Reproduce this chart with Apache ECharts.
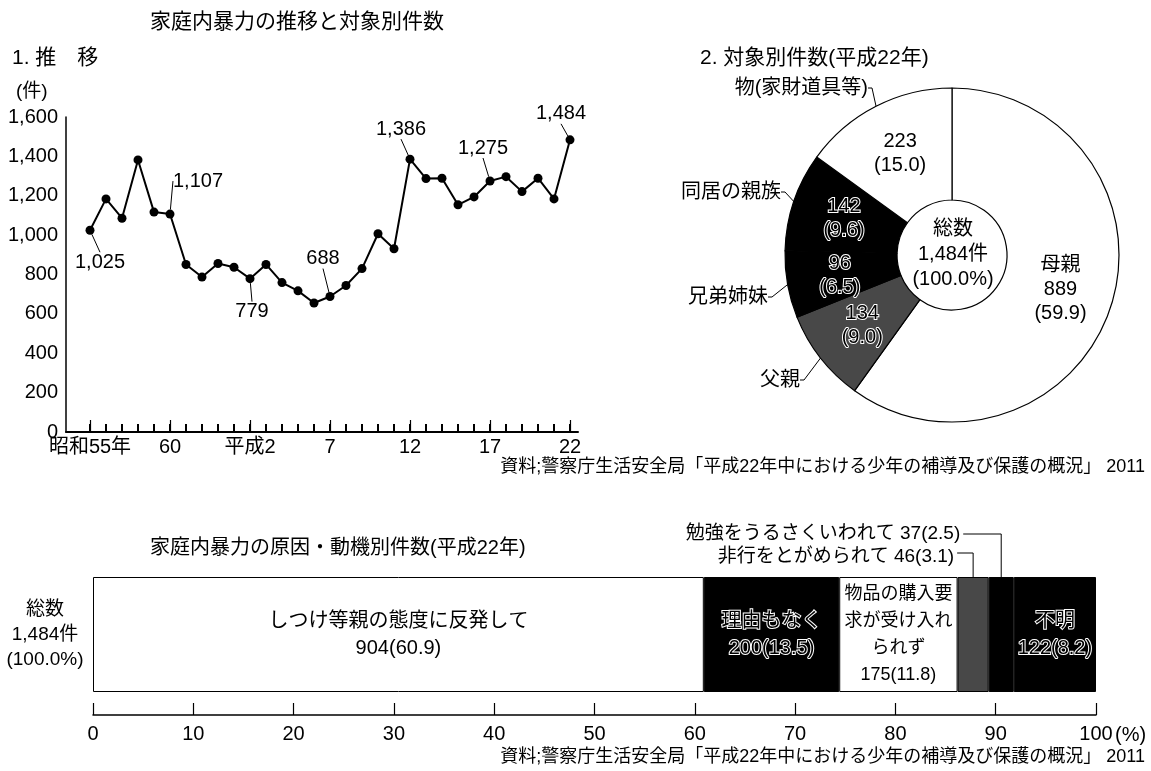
<!DOCTYPE html>
<html><head><meta charset="utf-8">
<script src="https://cdn.jsdelivr.net/npm/echarts@6/dist/echarts.min.js"></script>
<style>html,body{margin:0;padding:0;background:#fff}#c{width:1151px;height:771px}</style>
</head><body><div id="c"></div>
<script>
// ---- data ----
const years = ['昭和55年','56','57','58','59','60','61','62','63','平成元','2','3','4','5','6','7','8','9','10','11','12','13','14','15','16','17','18','19','20','21','22'];
const trendValues = [1025,1184,1086,1382,1117,1107,851,787,856,837,779,851,759,717,655,688,744,830,1007,931,1386,1287,1289,1154,1194,1275,1297,1221,1289,1184,1484];
const trendTickIdx = [0,5,10,15,20,25,30];
const trendTickLabels = ['昭和55年','60','平成2','7','12','17','22'];
const trendLabeledIdx = [0,5,10,15,20,25,30];

const targetNames = ['母親','父親','兄弟姉妹','同居の親族','物(家財道具等)'];
const targetCounts = [889,134,96,142,223];
const targetPct = [59.9,9.0,6.5,9.6,15.0];

const causeNames = ['しつけ等親の態度に反発して','理由もなく','物品の購入要求が受け入れられず','非行をとがめられて','勉強をうるさくいわれて','不明'];
const causeInsideText = ['しつけ等親の態度に反発して','理由もなく','物品の購入要\n求が受け入れ\nられず','','','不明'];
const causeCounts = [904,200,175,46,37,122];
const causePct = [60.9,13.5,11.8,3.1,2.5,8.2];

// ---- style ----
const FF = "'Liberation Sans','Noto Sans CJK JP',sans-serif";
const fmt = v => v.toLocaleString('en-US');
const chart = echarts.init(document.getElementById('c'));

const lineOffsets = {0:[10,32],5:[28,-33],10:[2,33],15:[-7,-38],20:[-9,-30],25:[-7,-33],30:[-9,-26]};
const pieLabelPos = {1:[802,380],2:[770,297],3:[783,192],4:[870,88]};

const lineData = trendValues.map((v,i)=>{
  const it = {value:[i,v]};
  if (trendLabeledIdx.includes(i)) it.label = {show:true};
  return it;
});
// category axis with one padding band before the first year (for tick placement)
const tickCats = [''].concat(years);
const isLabeled = idx => idx>0 && trendTickIdx.includes(idx-1);

const GRAY = '#484848';
const targetColors = ['#fff',GRAY,'#000','#000','#fff'];
const darkText = {color:'#000', textBorderColor:'#fff', textBorderWidth:2};
const pieInner = targetNames.map((n,i)=>{
  const dark = targetColors[i] !== '#fff';
  const txt = (i===0 ? n+'\n' : '') + targetCounts[i] + '\n(' + targetPct[i].toFixed(1) + ')';
  return {name:n, value:targetCounts[i], itemStyle:{color:targetColors[i]},
    label:Object.assign({formatter:txt}, dark?darkText:{color:'#000'})};
});
const pieOuter = targetNames.map((n,i)=>({name:n, value:targetCounts[i],
  label:{show:i!==0}, labelLine:{show:i!==0}}));

const causeColors = ['#fff','#000','#fff',GRAY,'#000','#000'];
const barSeries = causeNames.map((n,i)=>{
  const dark = causeColors[i] !== '#fff';
  const showLbl = causeInsideText[i] !== '';
  return {type:'bar', name:n, stack:'c', xAxisIndex:2, yAxisIndex:1, barWidth:'100%',
    data:[causePct[i]],
    itemStyle:{color:causeColors[i], borderColor:'#000', borderWidth:1},
    label:Object.assign({show:showLbl, position:'inside', fontFamily:FF, fontSize:(i===2?18:20), lineHeight:27,
      formatter: causeInsideText[i] + '\n' + causeCounts[i] + '(' + causePct[i].toFixed(1) + ')'},
      dark?darkText:{color:'#000'})};
});

const option = {
  animation:false,
  backgroundColor:'#fff',
  textStyle:{fontFamily:FF},
  grid:[
    {left:66, top:117, width:512, height:315},
    {left:93, right:55, top:577, height:115}
  ],
  xAxis:[
    {gridIndex:0, type:'value', position:'bottom', min:-1.5, max:30.5, show:false},
    {gridIndex:0, type:'category', position:'bottom', data:tickCats, boundaryGap:true,
     axisLine:{show:true, onZero:false, lineStyle:{color:'#000', width:2}},
     axisTick:{show:true, alignWithLabel:true, interval:idx=>isLabeled(idx), inside:true, length:12, lineStyle:{color:'#000', width:1.2}},
     axisLabel:{show:true, interval:idx=>isLabeled(idx), color:'#000', fontSize:20, fontFamily:FF, margin:5,
       formatter:(v,idx)=>isLabeled(idx)?trendTickLabels[trendTickIdx.indexOf(idx-1)]:''}},
    {gridIndex:1, type:'value', position:'bottom', min:0, max:100, interval:10, offset:23, splitLine:{show:false},
     axisLine:{show:true, onZero:false, lineStyle:{color:'#000', width:1.5}},
     axisTick:{show:true, inside:true, length:12, lineStyle:{color:'#000', width:1.2}},
     axisLabel:{show:true, color:'#000', fontSize:20, fontFamily:FF, margin:9}}
  ],
  yAxis:[
    {gridIndex:0, type:'value', min:0, max:1600, interval:200, splitLine:{show:false},
     axisLine:{show:true, onZero:false, lineStyle:{color:'#000', width:1.5}},
     axisTick:{show:false},
     axisLabel:{color:'#000', fontSize:20, fontFamily:FF, margin:8, formatter:fmt}},
    {gridIndex:1, type:'category', data:['総数\n'+fmt(causeCounts.reduce((a,b)=>a+b,0))+'件\n(100.0%)'],
     axisLine:{show:false}, axisTick:{show:false},
     axisLabel:{color:'#000', fontSize:19, fontFamily:FF, lineHeight:25, align:'center', margin:48}}
  ],
  series:[
    // short yearly tick marks on the x axis
    {type:'scatter', xAxisIndex:0, yAxisIndex:0, silent:true, z:5, clip:false,
     data:years.map((y,i)=>[i,0]), symbol:'rect', symbolSize:[2,8], symbolOffset:[0,-4],
     itemStyle:{color:'#000', opacity:1}},
    {type:'line', xAxisIndex:0, yAxisIndex:0, data:lineData, z:3,
     lineStyle:{color:'#000', width:2}, itemStyle:{color:'#000'},
     symbol:'circle', symbolSize:9,
     label:{show:false, position:'inside', color:'#000', fontSize:20, fontFamily:FF,
       formatter:p=>fmt(p.value[1])},
     labelLine:{show:true, lineStyle:{color:'#000', width:1}},
     labelLayout:p=>{const o=lineOffsets[p.dataIndex]; return o?{dx:o[0],dy:o[1]}:{};}},
    {type:'pie', center:[952,255], radius:[55,167], startAngle:90, clockwise:true,
     avoidLabelOverlap:false, silent:true,
     itemStyle:{borderColor:'#000', borderWidth:1.2},
     label:{position:'inside', fontSize:20, fontFamily:FF, lineHeight:24},
     labelLine:{show:false}, data:pieInner},
    {type:'pie', center:[952,255], radius:[55,167], startAngle:90, clockwise:true,
     avoidLabelOverlap:false, silent:true,
     itemStyle:{color:'rgba(0,0,0,0)', borderWidth:0},
     label:{position:'outside', color:'#000', fontSize:20, fontFamily:FF, formatter:'{b}'},
     labelLine:{length:10, length2:4, lineStyle:{color:'#000', width:1}},
     labelLayout:p=>{const q=pieLabelPos[p.dataIndex]; return q?{x:q[0]-2, y:q[1], align:'right', verticalAlign:'middle'}:{};},
     data:pieOuter}
  ].concat(barSeries)
};
chart.setOption(option);

// ---- annotation texts and leader lines ----
const txt = (id,text,x,y,size,align)=>({type:'text', id, x, y, silent:true,
  style:{text, fill:'#000', fontSize:size, fontFamily:FF, textAlign:align||'left', textVerticalAlign:'middle'}});
const total = targetCounts.reduce((a,b)=>a+b,0);
const src = '資料;警察庁生活安全局「平成22年中における少年の補導及び保護の概況」 2011';
const barRect = chart.getModel().getComponent('grid',1).coordinateSystem.getRect();
let cum = 0; const mids = causePct.map(p=>{const m = cum + p/2; cum += p; return m;});
const xStudy = chart.convertToPixel({xAxisIndex:2}, mids[4]);
const xDelinq = chart.convertToPixel({xAxisIndex:2}, mids[3]);
const yTop = barRect.y;
const lbl = i => causeNames[i] + ' ' + causeCounts[i] + '(' + causePct[i].toFixed(1) + ')';
const graphics = [
  txt('t1','家庭内暴力の推移と対象別件数',150,22,21),
  txt('t2','1. 推　移',12,58,21),
  txt('t3','(件)',16,92,19),
  txt('t4','2. 対象別件数(平成22年)',700,58,21),
  {type:'text', id:'center', x:953, y:254, silent:true, style:{text:'総数\n'+fmt(total)+'件\n(100.0%)', fill:'#000', fontSize:20, fontFamily:FF, textAlign:'center', textVerticalAlign:'middle', lineHeight:25}},
  txt('s1',src,1145,467,18,'right'),
  txt('t5','家庭内暴力の原因・動機別件数(平成22年)',150,548,20),
  txt('pc','(%)',1115,735,20),
  txt('s2',src,1145,757,18,'right'),
  txt('l1',lbl(4),xStudy-41,534,19,'right'),
  txt('l2',lbl(3),xDelinq-19,557,19,'right'),
  {type:'polyline', id:'ln1', silent:true, shape:{points:[[xStudy-38,534],[xStudy,534],[xStudy,yTop]]}, style:{stroke:'#000', lineWidth:1, fill:null}},
  {type:'polyline', id:'ln2', silent:true, shape:{points:[[xDelinq-16,553],[xDelinq,553],[xDelinq,yTop]]}, style:{stroke:'#000', lineWidth:1, fill:null}}
];
chart.setOption({graphic:graphics});
</script></body></html>
